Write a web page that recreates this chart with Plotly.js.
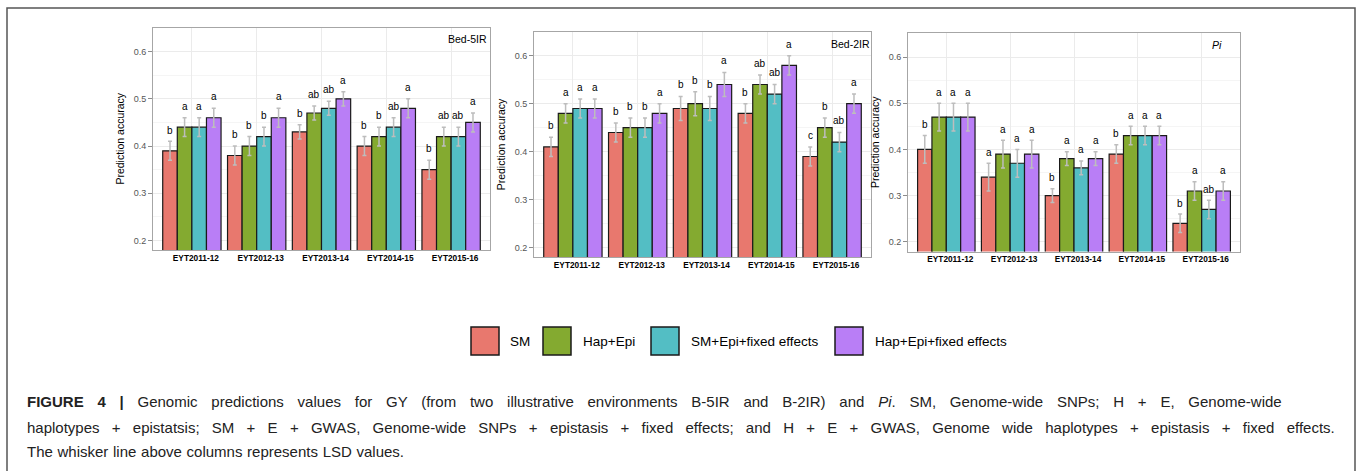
<!DOCTYPE html>
<html>
<head>
<meta charset="utf-8">
<script src="https://cdn.plot.ly/plotly-3.0.1.min.js"></script>
<style>
  html, body { margin: 0; padding: 0; background: #fff; }
  #chart { width: 1358px; height: 471px; }
</style>
</head>
<body>
<div id="chart"></div>
<script>
// ---------------- DATA ----------------
const categories = ['EYT2011-12', 'EYT2012-13', 'EYT2013-14', 'EYT2014-15', 'EYT2015-16'];
const seriesNames = ['SM', 'Hap+Epi', 'SM+Epi+fixed effects', 'Hap+Epi+fixed effects'];
const panelLabels = ['Bed-5IR', 'Bed-2IR', '<i>Pi</i>'];

// Bed-5IR
const bed5IR_SM       = [0.39, 0.38, 0.43, 0.40, 0.35];
const bed5IR_HapEpi   = [0.44, 0.40, 0.47, 0.42, 0.42];
const bed5IR_SMEpiFE  = [0.44, 0.42, 0.48, 0.44, 0.42];
const bed5IR_HapEpiFE = [0.46, 0.46, 0.50, 0.48, 0.45];
const bed5IR_LSD      = [0.02, 0.02, 0.015, 0.02, 0.02];
const bed5IR_letters_SM       = ['b', 'b', 'b', 'b', 'b'];
const bed5IR_letters_HapEpi   = ['a', 'b', 'ab', 'b', 'ab'];
const bed5IR_letters_SMEpiFE  = ['a', 'b', 'ab', 'ab', 'ab'];
const bed5IR_letters_HapEpiFE = ['a', 'a', 'a', 'a', 'a'];

// Bed-2IR
const bed2IR_SM       = [0.41, 0.44, 0.49, 0.48, 0.39];
const bed2IR_HapEpi   = [0.48, 0.45, 0.50, 0.54, 0.45];
const bed2IR_SMEpiFE  = [0.49, 0.45, 0.49, 0.52, 0.42];
const bed2IR_HapEpiFE = [0.49, 0.48, 0.54, 0.58, 0.50];
const bed2IR_LSD      = [0.02, 0.02, 0.025, 0.02, 0.02];
const bed2IR_letters_SM       = ['b', 'b', 'b', 'b', 'c'];
const bed2IR_letters_HapEpi   = ['a', 'b', 'b', 'ab', 'b'];
const bed2IR_letters_SMEpiFE  = ['a', 'b', 'b', 'ab', 'ab'];
const bed2IR_letters_HapEpiFE = ['a', 'a', 'a', 'a', 'a'];

// Pi
const pi_SM       = [0.40, 0.34, 0.30, 0.39, 0.24];
const pi_HapEpi   = [0.47, 0.39, 0.38, 0.43, 0.31];
const pi_SMEpiFE  = [0.47, 0.37, 0.36, 0.43, 0.27];
const pi_HapEpiFE = [0.47, 0.39, 0.38, 0.43, 0.31];
const pi_LSD      = [0.03, 0.03, 0.015, 0.02, 0.02];
const pi_letters_SM       = ['b', 'a', 'b', 'b', 'b'];
const pi_letters_HapEpi   = ['a', 'a', 'a', 'a', 'a'];
const pi_letters_SMEpiFE  = ['a', 'a', 'a', 'a', 'ab'];
const pi_letters_HapEpiFE = ['a', 'a', 'a', 'a', 'a'];

const captionLine1 = '<b>FIGURE 4 |</b> Genomic predictions values for GY (from two illustrative environments B-5IR and B-2IR) and <i>Pi</i>. SM, Genome-wide SNPs; H + E, Genome-wide';
const captionLine2 = 'haplotypes + epistatsis; SM + E + GWAS, Genome-wide SNPs + epistasis + fixed effects; and H + E + GWAS, Genome wide haplotypes + epistasis + fixed effects.';
const captionLine3 = 'The whisker line above columns represents LSD values.';

// ---------------- STYLE ----------------
const colors = ['#E8786E', '#84AA30', '#53BEC4', '#B97EF6'];
const W = 1358, H = 471;
const px = v => v / W;
const py = v => 1 - v / H;

const panels = [
  { values: [bed5IR_SM, bed5IR_HapEpi, bed5IR_SMEpiFE, bed5IR_HapEpiFE], lsd: bed5IR_LSD,
    letters: [bed5IR_letters_SM, bed5IR_letters_HapEpi, bed5IR_letters_SMEpiFE, bed5IR_letters_HapEpiFE],
    dom: { x0: 153, x1: 490, y0: 250, y1: 27.5 }, yr: [0.180, 0.651], labelRight: 489 },
  { values: [bed2IR_SM, bed2IR_HapEpi, bed2IR_SMEpiFE, bed2IR_HapEpiFE], lsd: bed2IR_LSD,
    letters: [bed2IR_letters_SM, bed2IR_letters_HapEpi, bed2IR_letters_SMEpiFE, bed2IR_letters_HapEpiFE],
    dom: { x0: 534, x1: 871, y0: 257.3, y1: 31.7 }, yr: [0.180, 0.650], labelRight: 872 },
  { values: [pi_SM, pi_HapEpi, pi_SMEpiFE, pi_HapEpiFE], lsd: pi_LSD,
    letters: [pi_letters_SM, pi_letters_HapEpi, pi_letters_SMEpiFE, pi_letters_HapEpiFE],
    dom: { x0: 908, x1: 1240, y0: 251.5, y1: 33 }, yr: [0.179, 0.652], labelRight: 1224 }
];

const traces = [];
const annotations = [];
const shapes = [];
const layout = {
  width: W, height: H,
  margin: { l: 0, r: 0, t: 0, b: 0 },
  paper_bgcolor: '#ffffff', plot_bgcolor: '#ffffff',
  barmode: 'group', bargap: 0.1, bargroupgap: 0,
  showlegend: false,
  font: { family: 'Liberation Sans, Arial, sans-serif', color: '#000' }
};

const nS = seriesNames.length;
const barW = 0.9 / nS;

panels.forEach((p, pi) => {
  const sfx = pi === 0 ? '' : String(pi + 1);
  const xa = 'x' + sfx, ya = 'y' + sfx;
  p.values.forEach((vals, si) => {
    traces.push({
      type: 'bar', x: categories, y: vals, name: seriesNames[si],
      xaxis: xa, yaxis: ya, offsetgroup: String(si),
      marker: { color: colors[si], line: { color: '#1a1a1a', width: 1.2 } },
      error_y: { type: 'data', array: p.lsd, visible: true, color: '#BDBDBD', thickness: 1.5, width: 2 },
      hoverinfo: 'skip'
    });
    vals.forEach((v, ci) => {
      annotations.push({
        xref: xa, yref: ya, x: ci + (si - (nS - 1) / 2) * barW, y: v + p.lsd[ci] + 0.024,
        text: p.letters[si][ci], showarrow: false, xanchor: 'center', yanchor: 'middle',
        font: { size: 10, color: '#000', family: 'Liberation Sans, Arial, sans-serif' }
      });
    });
  });
  layout['xaxis' + sfx] = {
    domain: [px(p.dom.x0), px(p.dom.x1)], anchor: ya,
    type: 'category', range: [-0.6, categories.length - 0.4],
    showgrid: true, gridcolor: '#EBEBEB', gridwidth: 1,
    showline: true, mirror: true, linecolor: '#A6A6A6', linewidth: 1,
    ticks: '', ticklabelshift: 4,
    tickfont: { size: 8.3, color: '#000', family: 'Liberation Sans, Arial, sans-serif', weight: 'bold' },
    fixedrange: true, zeroline: false
  };
  layout['yaxis' + sfx] = {
    domain: [py(p.dom.y0), py(p.dom.y1)], anchor: xa,
    range: p.yr, tickvals: [0.2, 0.3, 0.4, 0.5, 0.6], ticktext: ['0.2', '0.3', '0.4', '0.5', '0.6'],
    showgrid: true, gridcolor: '#EBEBEB', gridwidth: 1,
    minor: { tickvals: [0.25, 0.35, 0.45, 0.55, 0.65], showgrid: true, gridcolor: '#F5F5F5', gridwidth: 1, ticks: '' },
    showline: true, mirror: true, linecolor: '#A6A6A6', linewidth: 1,
    ticks: 'outside', ticklen: 4, tickcolor: '#8C8C8C', tickwidth: 1,
    tickfont: { size: 9, color: '#555555' },
    title: { text: 'Prediction accuracy', font: { size: 10.5, color: '#000' }, standoff: 7 },
    fixedrange: true, zeroline: false
  };
  annotations.push({
    xref: 'paper', yref: 'paper', x: px(p.labelRight), y: py(p.dom.y1 + 12),
    text: panelLabels[pi], showarrow: false, xanchor: 'right', yanchor: 'middle',
    font: { size: 10.5, color: '#000' }
  });
});

// Legend (manual, large boxes)
const legendItems = [
  { x: 471, tx: 508 }, { x: 543, tx: 581 }, { x: 651, tx: 689 }, { x: 835, tx: 873 }
];
seriesNames.forEach((n, i) => {
  const it = legendItems[i];
  shapes.push({ type: 'rect', xref: 'paper', yref: 'paper',
    x0: px(it.x), x1: px(it.x + 28), y0: py(355), y1: py(327),
    fillcolor: colors[i], line: { color: '#1a1a1a', width: 1.5 } });
  annotations.push({ xref: 'paper', yref: 'paper', x: px(it.tx), y: py(341), text: n,
    showarrow: false, xanchor: 'left', yanchor: 'middle', font: { size: 13.5, color: '#000' } });
});

// Frame
shapes.push({ type: 'rect', xref: 'paper', yref: 'paper', x0: px(7), x1: px(1355), y0: -0.1, y1: py(8),
  line: { color: '#555555', width: 1.5 }, fillcolor: 'rgba(0,0,0,0)' });

// Caption (first two lines are justified in the original -> wider word spacing)
const wordSpacing = [9.6, 8.1, 0.5];
[captionLine1, captionLine2, captionLine3].forEach((t, i) => {
  annotations.push({ xref: 'paper', yref: 'paper', x: px(25), y: py([401, 427, 451][i]),
    text: '<span style="word-spacing:' + wordSpacing[i] + 'px">' + t + '</span>',
    showarrow: false, xanchor: 'left', yanchor: 'middle', align: 'left',
    font: { size: 15, color: '#222', family: 'Liberation Sans, Arial, sans-serif' } });
});

layout.annotations = annotations;
layout.shapes = shapes;

Plotly.newPlot('chart', traces, layout, { displayModeBar: false, staticPlot: true });
</script>
</body>
</html>
